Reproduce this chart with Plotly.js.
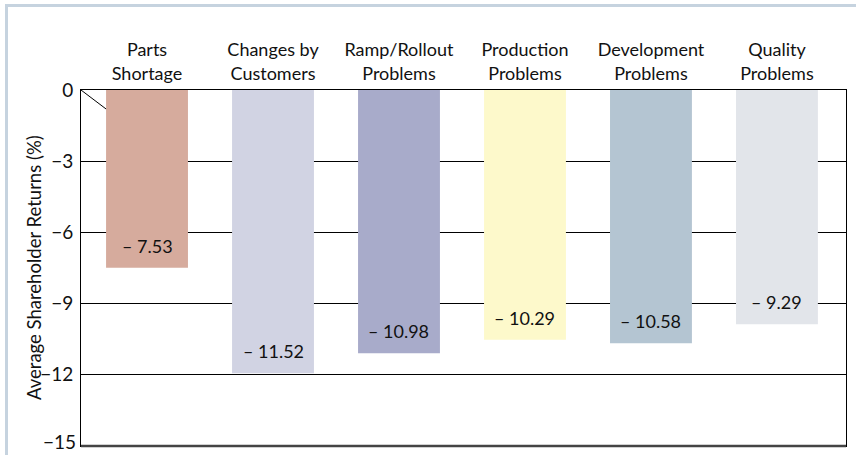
<!DOCTYPE html>
<html>
<head>
<meta charset="utf-8">
<script src="https://cdn.plot.ly/plotly-3.0.1.min.js"></script>
<style>
  html, body { margin: 0; padding: 0; background: #ffffff; }
  #wrap { position: relative; width: 856px; height: 455px; }
  #frame { position: absolute; left: 5px; top: 4px; width: 851px; height: 451px;
           border-left: 3px solid #c6d3df; border-top: 3px solid #c6d3df; box-sizing: border-box; }
  #chart { position: absolute; left: 0; top: 0; width: 856px; height: 455px; }
</style>
</head>
<body>
<div id="wrap">
  <div id="frame"></div>
  <div id="chart"></div>
</div>
<script>
// Categories (two-line labels above the bars)
const categories = [
  "Parts<br>Shortage",
  "Changes by<br>Customers",
  "Ramp/Rollout<br>Problems",
  "Production<br>Problems",
  "Development<br>Problems",
  "Quality<br>Problems"
];
// Bar heights as drawn in the picture (%)
const barValues = [-7.49, -11.93, -11.09, -10.52, -10.67, -9.87];
// Value labels as printed on the bars
const valueLabels = ["– 7.53", "– 11.52", "– 10.98", "– 10.29", "– 10.58", "– 9.29"];
const barColors = ["#d6ab9d", "#d1d3e3", "#a8abca", "#fdf9cb", "#b4c5d2", "#e2e5ea"];
const yTicks = [0, -3, -6, -9, -12, -15];
const yTitle = "Average Shareholder Returns (%)";

const FONT = "Lato, 'Open Sans', sans-serif";
const TXT = "#111111";
const barWidth = 0.65;
const xIdx = categories.map((_, i) => i);
const yMin = yTicks[yTicks.length - 1];

const trace = {
  type: "bar",
  x: xIdx,
  y: barValues,
  width: barWidth,
  marker: { color: barColors, line: { width: 0 } },
  hoverinfo: "skip"
};

const annotations = xIdx.map(i => ({
  x: i, y: barValues[i], xref: "x", yref: "y",
  text: valueLabels[i], showarrow: false,
  yanchor: "middle", yshift: 22,
  font: { family: FONT, size: 18, color: TXT }
}));
annotations.push({
  x: 0, y: 0.5, xref: "paper", yref: "paper",
  xshift: -47, text: yTitle, textangle: -90, showarrow: false,
  xanchor: "center", yanchor: "middle",
  font: { family: FONT, size: 18.5, color: TXT }
});
// bottom tick label (kept inside the page)
annotations.push({
  x: 0, y: yMin, xref: "paper", yref: "y",
  xanchor: "right", yanchor: "bottom", xshift: -3, yshift: -9,
  text: "\u2212" + Math.abs(yMin), showarrow: false,
  font: { family: FONT, size: 19, color: TXT }
});

const layout = {
  width: 856, height: 455,
  margin: { l: 81, r: 10, t: 90, b: 9 },
  paper_bgcolor: "rgba(0,0,0,0)",
  plot_bgcolor: "rgba(0,0,0,0)",
  showlegend: false,
  font: { family: FONT, size: 18, color: TXT },
  xaxis: {
    side: "top",
    range: [-0.524, 5.548],
    tickmode: "array", tickvals: xIdx, ticktext: categories,
    ticks: "", showgrid: false, zeroline: false,
    showline: true, mirror: true, linecolor: "#000", linewidth: 1,
    tickfont: { family: FONT, size: 18, color: TXT },
    ticklabelstandoff: 2,
    fixedrange: true
  },
  yaxis: {
    range: [yMin, 0],
    tickmode: "array", tickvals: yTicks.slice(0, -1),
    ticks: "", showgrid: true, gridcolor: "#000", gridwidth: 1,
    zeroline: false, layer: "below traces",
    showline: true, mirror: true, linecolor: "#000", linewidth: 1,
    tickfont: { family: FONT, size: 19, color: TXT },
    ticklabelstandoff: 3,
    fixedrange: true
  },
  annotations: annotations,
  shapes: [
    { type: "line", xref: "paper", yref: "paper", x0: 0, x1: 1, y0: 0, y1: 0,
      line: { color: "#444", width: 2.5 } },
    { type: "line", xref: "x", yref: "y", x0: -0.524, y0: 0, x1: -barWidth / 2, y1: -0.8,
      line: { color: "#000", width: 1 } }
  ]
};

Plotly.newPlot("chart", [trace], layout, { staticPlot: true, displayModeBar: false });
</script>
</body>
</html>
